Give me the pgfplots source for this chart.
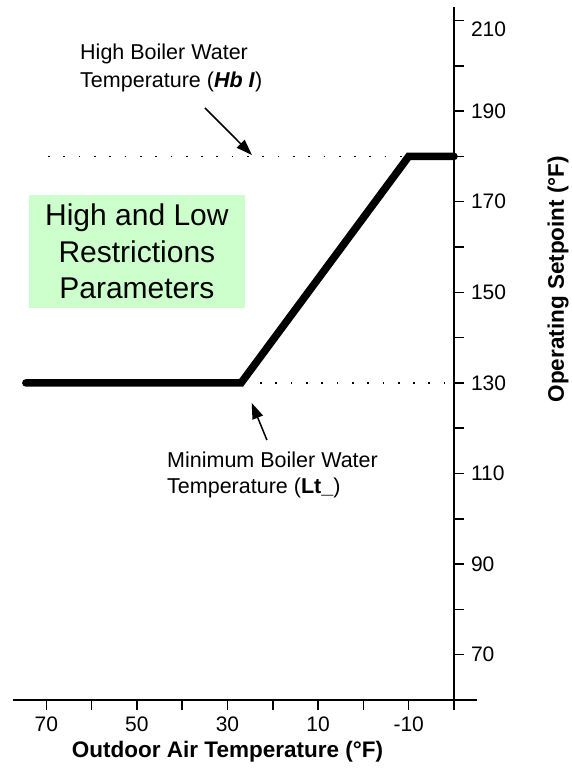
\documentclass[border=0pt]{standalone}
\usepackage{fontspec}
\setmainfont{Liberation Sans}
\usepackage{pgfplots}
\pgfplotsset{compat=1.18}
\usetikzlibrary{arrows.meta}
\definecolor{boxgreen}{RGB}{204,255,204}

\begin{document}
\begin{tikzpicture}
\begin{axis}[
  x=2.265pt, y=2.265pt,
  xmin=-77.4, xmax=20, ymin=60, ymax=213,
  axis x line=bottom, axis y line=right,
  axis line style={-, line width=0.75pt, black},
  tick align=outside,
  major tick length=5pt, minor tick length=5pt,
  tick style={line width=0.75pt, black},
  xtick={-70,-50,-30,-10,10},
  xticklabels={70,50,30,10,-10},
  minor xtick={-60,-40,-20,0,20},
  ytick={70,90,...,210},
  yticklabels={70,90,110,130,150,170,190,{}},
  minor ytick={80,100,...,200},
  /pgf/number format/assume math mode=true,
  ticklabel style={font=\fontsize{10.5}{12}\selectfont},
  clip=false,
]
\coordinate (bl) at (axis cs:-80.22,44.55);
\coordinate (tr) at (axis cs:45.83,214.53);
% dotted reference lines
\draw[line width=0.85pt, dash pattern=on 0.85pt off 6.8pt] (axis cs:-69.6,180) -- (axis cs:20,180);
\draw[line width=0.85pt, dash pattern=on 0.85pt off 6.8pt] (axis cs:-22.8,130) -- (axis cs:20,130);
% x axis extension
\draw[line width=0.75pt] (axis cs:20,60) -- (axis cs:25.1,60);
% main curve
\addplot[line width=3.8pt, line cap=round, line join=miter, black] coordinates {(-74.5,130) (-27,130) (10,180) (20,180)};
% top tick label, set a little lower as in the reference
\node[anchor=west, xshift=5pt, yshift=-4.5pt, font=\fontsize{10.5}{12}\selectfont] at (axis cs:20,210) {210};
% box
\node[fill=boxgreen, minimum width=108pt, minimum height=56.5pt, align=center,
      font=\fontsize{15}{18.3}\selectfont, inner sep=0pt] at (axis cs:-50,159)
      {High and Low\\Restrictions\\Parameters};
% annotations
\node[anchor=west, align=left, inner sep=0pt, font=\fontsize{10.75}{13.8}\selectfont]
      at (axis cs:-62.6,199.5) {High Boiler Water\\Temperature (\textbf{\textit{Hb I}})};
\node[anchor=west, align=left, inner sep=0pt, font=\fontsize{10.75}{13.3}\selectfont]
      at (axis cs:-43.4,109.7) {Minimum Boiler Water\\Temperature (\textbf{Lt\_})};
\draw[line width=0.75pt, -{Triangle[length=8pt,width=5.5pt]}] (axis cs:-34.97,190.7) -- (axis cs:-24.6,180.3);
\draw[line width=0.75pt, -{Triangle[length=8pt,width=5.5pt]}] (axis cs:-21.3,117.4) -- (axis cs:-24.66,125.6);
% axis titles
\node[font=\bfseries\fontsize{11.25}{13}\selectfont] at (axis cs:-30,48.5) {Outdoor Air Temperature (°F)};
\node[rotate=90, font=\bfseries\fontsize{11.25}{13}\selectfont] at (axis cs:42.96,152.9) {Operating Setpoint (°F)};
\end{axis}
\pgfresetboundingbox
\path[use as bounding box] (bl) rectangle (tr);
\end{tikzpicture}
\end{document}
